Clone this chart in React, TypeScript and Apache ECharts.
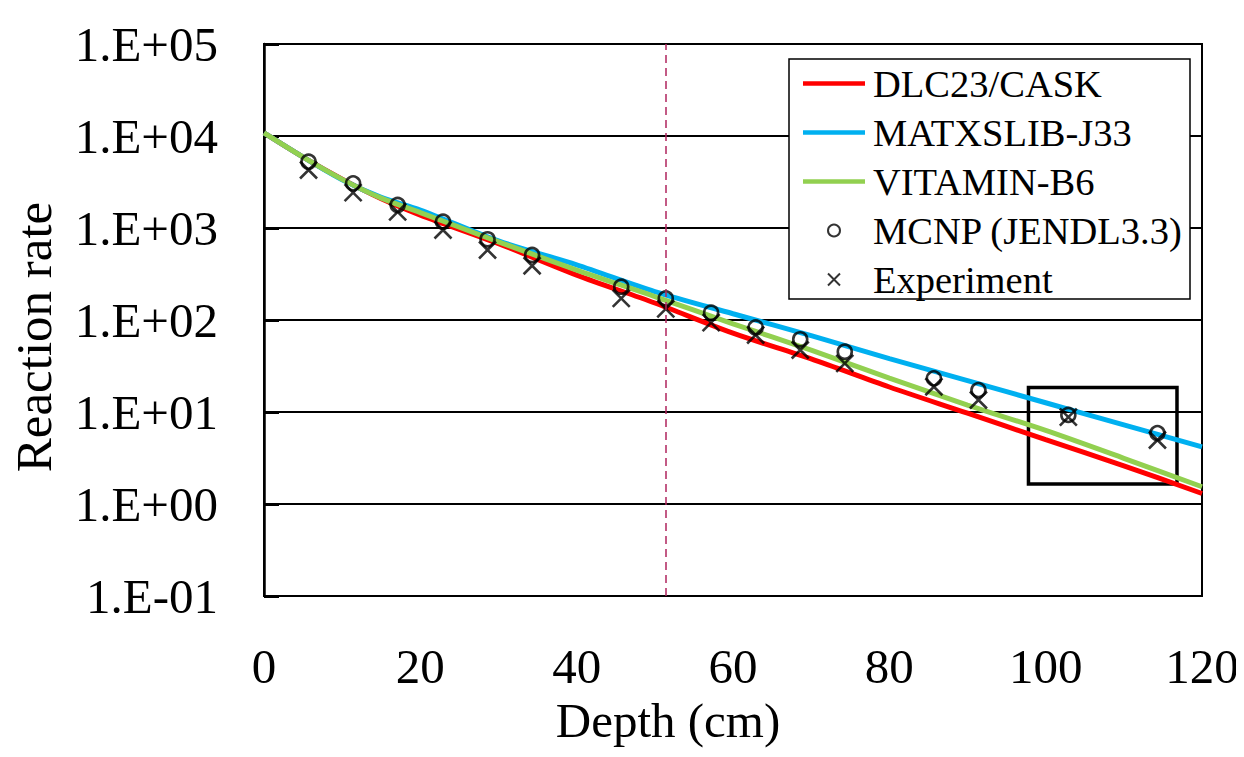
import React, { useEffect, useRef } from "react";
import * as echarts from "echarts";

// ---- data ----
const curveDepths = [0, 5, 10, 15, 20, 30, 40, 50, 60, 70, 80, 90, 100, 110, 120];
const dlc23Cask = [10800, 5900, 3400, 2080, 1380, 676, 308, 153, 72, 37.7, 18.7, 9.7, 5.0, 2.6, 1.3];
const matxslibJ33 = [10800, 5900, 3350, 2150, 1570, 724, 398, 204, 117, 67.6, 38, 21.9, 12.6, 7.24, 4.17];
const vitaminB6 = [10800, 5900, 3380, 2110, 1470, 708, 349, 180, 91, 47, 23.4, 11.9, 6.3, 3.14, 1.54];

const pointDepths = [5.7, 11.4, 17.1, 22.9, 28.6, 34.3, 45.7, 51.4, 57.2, 62.9, 68.6, 74.3, 85.7, 91.4, 102.9, 114.3];
const mcnpJendl33 = [5250, 3060, 1780, 1170, 754, 509, 230, 172, 120, 83, 61.7, 45.2, 23.2, 17.3, 9.3, 5.9];
const experiment = [4270, 2420, 1500, 951, 577, 389, 172, 132, 93.6, 68.7, 47.2, 33.8, 18.8, 13.5, 8.8, 4.96];

const dashedLineDepth = 51.4;
const boxCorners = [
  [97.8, 18.5],
  [116.8, 1.65],
];

const seriesNames = ["DLC23/CASK", "MATXSLIB-J33", "VITAMIN-B6", "MCNP (JENDL3.3)", "Experiment"];
const xTicks = { min: 0, max: 120, interval: 20 };
const yRange = { min: 0.1, max: 100000 };

const FONT = "Liberation Serif, Times New Roman, serif";
const LINE_ICON = "path://M0,0H62V4.5H0Z";

function pair(xs: number[], ys: number[]) {
  return xs.map((x, i) => [x, ys[i]]);
}

function expLabel(v: number) {
  const e = Math.round(Math.log10(v));
  const s = e < 0 ? "-" : "+";
  const a = Math.abs(e);
  return `1.E${s}${a < 10 ? "0" + a : a}`;
}

export default function App() {
  const ref = useRef<HTMLDivElement>(null);
  useEffect(() => {
    if (!ref.current) return;
    const chart = echarts.init(ref.current, undefined, { renderer: "svg" });
    const lineCommon = (name: string, data: number[], color: string) => ({
      name,
      type: "line",
      data: pair(curveDepths, data),
      showSymbol: false,
      symbol: "none",
      smooth: 0.3,
      lineStyle: { color, width: 5 },
      itemStyle: { color },
      z: 3,
    });
    const option: any = {
      animation: false,
      backgroundColor: "#ffffff",
      grid: {
        left: 264,
        right: 42,
        top: 44,
        bottom: 161,
        show: true,
        borderColor: "#000",
        borderWidth: 2,
        containLabel: false,
      },
      legend: {
        orient: "vertical",
        left: 803,
        top: 64,
        padding: 0,
        itemWidth: 62,
        itemHeight: 12,
        itemGap: 10,
        selectedMode: false,
        textStyle: { fontFamily: FONT, fontSize: 38.5, color: "#000", padding: [0, 0, 0, 3] },
        data: [
          { name: seriesNames[0], icon: LINE_ICON },
          { name: seriesNames[1], icon: LINE_ICON },
          { name: seriesNames[2], icon: LINE_ICON },
          { name: seriesNames[3] },
          { name: seriesNames[4] },
        ],
        z: 10,
      },
      xAxis: {
        type: "value",
        min: xTicks.min,
        max: xTicks.max,
        interval: xTicks.interval,
        axisLine: { show: true, lineStyle: { color: "#000", width: 2 } },
        axisTick: { show: false },
        splitLine: { show: false },
        axisLabel: { fontFamily: FONT, fontSize: 49, color: "#000", margin: 46 },
      },
      yAxis: {
        type: "log",
        logBase: 10,
        min: yRange.min,
        max: yRange.max,
        axisLine: { show: true, lineStyle: { color: "#000", width: 2.5 } },
        axisTick: { show: true, inside: true, length: 15, lineStyle: { color: "#000", width: 3 } },
        splitLine: { show: true, lineStyle: { color: "#000", width: 2 } },
        axisLabel: {
          fontFamily: FONT,
          fontSize: 49,
          color: "#000",
          margin: 46,
          formatter: (v: number) => expLabel(v),
        },
      },
      graphic: [
        {
          type: "rect",
          shape: { x: 789, y: 59, width: 401, height: 240 },
          style: { fill: "#fff", stroke: "#000", lineWidth: 1.5 },
          z: 5,
        },
        {
          type: "text",
          x: 668,
          y: 720,
          style: {
            text: "Depth (cm)",
            font: `49px ${FONT}`,
            fill: "#000",
            align: "center",
            verticalAlign: "middle",
          },
        },
        {
          type: "text",
          x: 34,
          y: 337,
          rotation: Math.PI / 2,
          style: {
            text: "Reaction rate",
            font: `51px ${FONT}`,
            fill: "#000",
            align: "center",
            verticalAlign: "middle",
          },
        },
      ],
      series: [
        {
          ...lineCommon(seriesNames[0], dlc23Cask, "#FF0000"),
          markLine: {
            silent: true,
            symbol: ["none", "none"],
            label: { show: false },
            lineStyle: { color: "#B0245E", width: 1.5, type: [8, 5] },
            data: [{ xAxis: dashedLineDepth }],
          },
          markArea: {
            silent: true,
            itemStyle: { color: "rgba(0,0,0,0)", borderColor: "#000", borderWidth: 3.5 },
            data: [[{ coord: boxCorners[0] }, { coord: boxCorners[1] }]],
          },
        },
        lineCommon(seriesNames[1], matxslibJ33, "#00B0F0"),
        lineCommon(seriesNames[2], vitaminB6, "#92D050"),
        {
          name: seriesNames[3],
          type: "scatter",
          data: pair(pointDepths, mcnpJendl33),
          symbol: "circle",
          symbolSize: 14,
          itemStyle: { color: "rgba(0,0,0,0)", borderColor: "#000", borderWidth: 2.6 },
          z: 4,
        },
        {
          name: seriesNames[4],
          type: "scatter",
          data: pair(pointDepths, experiment),
          symbol: "path://M0,0L16,16M16,0L0,16",
          symbolSize: 17,
          itemStyle: { color: "rgba(0,0,0,0)", borderColor: "#000", borderWidth: 2.6 },
          z: 4,
        },
      ],
    };
    chart.setOption(option);
    return () => chart.dispose();
  }, []);
  return <div ref={ref} style={{ width: 1244, height: 757, margin: -8 }} />;
}
